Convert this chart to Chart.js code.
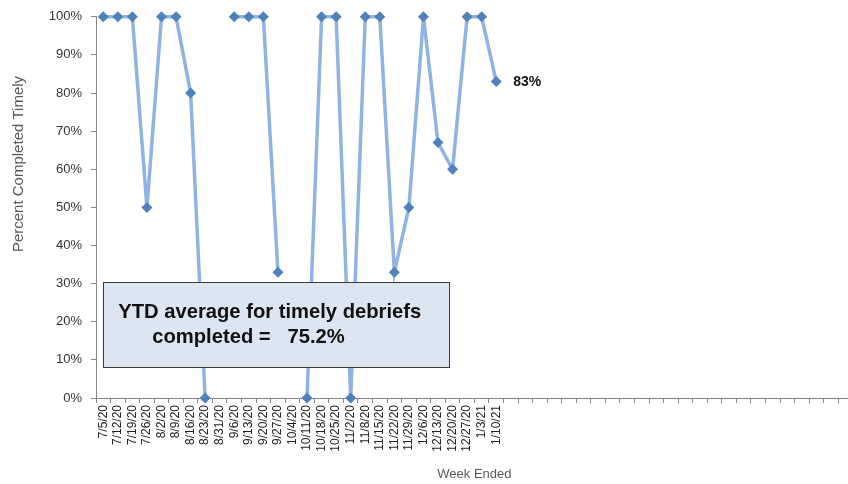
<!DOCTYPE html>
<html>
<head>
<meta charset="utf-8">
<script src="https://cdn.jsdelivr.net/npm/chart.js@4.4.0/dist/chart.umd.min.js"></script>
<style>
  html, body { margin: 0; padding: 0; background: #fff; overflow: hidden; width: 848px; height: 484px; }
  #wrap { position: relative; width: 862px; height: 484px; }
</style>
</head>
<body>
<div id="wrap"><canvas id="c" width="862" height="484"></canvas></div>
<script>
// ---- data ----
const weeks = ['7/5/20','7/12/20','7/19/20','7/26/20','8/2/20','8/9/20','8/16/20','8/23/20','8/31/20',
  '9/6/20','9/13/20','9/20/20','9/27/20','10/4/20','10/11/20','10/18/20','10/25/20','11/2/20',
  '11/8/20','11/15/20','11/22/20','11/29/20','12/6/20','12/13/20','12/20/20','12/27/20','1/3/21','1/10/21'];
const emptyWeeks = 24; // remaining (unlabelled) weeks of the year on the axis
const pctTimely = [100,100,100,50,100,100,80,0,null,100,100,100,33,null,0,100,100,0,100,100,33,50,100,67,60,100,100,83];
const yTicks = [0,10,20,30,40,50,60,70,80,90,100];
const noteLines = ['YTD average for timely debriefs', 'completed =   75.2%'];
const lastLabel = '83%';

const allLabels = weeks.concat(new Array(emptyWeeks).fill(''));

const extras = {
  id: 'extras',
  afterDatasetsDraw(chart) {
    const ctx = chart.ctx, xs = chart.scales.x, ys = chart.scales.y;
    // note box
    const l = xs.getPixelForValue(0), r = xs.getPixelForValue(23.76);
    const t = ys.getPixelForValue(30.3), b = ys.getPixelForValue(8.1);
    ctx.save();
    ctx.fillStyle = '#DCE6F2';
    ctx.strokeStyle = '#3a3a3a';
    ctx.lineWidth = 1;
    ctx.fillRect(l, t, r - l, b - t);
    ctx.strokeRect(Math.round(l) + 0.5, Math.round(t) + 0.5, Math.round(r - l), Math.round(b - t));
    // fit font
    let size = 20;
    ctx.font = 'bold ' + size + 'px "Liberation Sans", Arial, sans-serif';
    const w = ctx.measureText(noteLines[0]).width;
    size = size * 303 / w;
    ctx.font = 'bold ' + size.toFixed(2) + 'px "Liberation Sans", Arial, sans-serif';
    ctx.fillStyle = '#111';
    ctx.textBaseline = 'alphabetic';
    ctx.textAlign = 'left';
    ctx.fillText(noteLines[0], l + 15, t + 36);
    ctx.fillText(noteLines[1], l + 49, t + 61);
    ctx.restore();

    // last point label
    const meta = chart.getDatasetMeta(0);
    const idx = pctTimely.length - 1;
    const pt = meta.data[idx];
    ctx.save();
    ctx.font = 'bold 14px "Liberation Sans", Arial, sans-serif';
    ctx.fillStyle = '#111';
    ctx.textAlign = 'left';
    ctx.textBaseline = 'middle';
    ctx.fillText(lastLabel, pt.x + 17, pt.y + 1);
    ctx.restore();
  },
  afterDraw(chart) {
    const ctx = chart.ctx;
    ctx.save();
    ctx.translate(19, 164);
    ctx.rotate(-Math.PI / 2);
    ctx.font = '15px "Liberation Sans", Arial, sans-serif';
    ctx.fillStyle = '#595959';
    ctx.textAlign = 'center';
    ctx.textBaseline = 'middle';
    ctx.fillText('Percent Completed Timely', 0, 0);
    ctx.restore();
  }
};

new Chart(document.getElementById('c'), {
  type: 'line',
  data: {
    labels: allLabels,
    datasets: [{
      data: pctTimely,
      borderColor: '#8EB4E3',
      borderWidth: 3.5,
      pointStyle: 'rectRot',
      pointRadius: 5.5,
      pointBackgroundColor: '#4F81BD',
      pointBorderColor: '#4F81BD',
      pointBorderWidth: 0,
      spanGaps: false,
      tension: 0,
      clip: false
    }]
  },
  options: {
    responsive: false,
    animation: false,
    devicePixelRatio: 1,
    layout: { padding: { left: 0, right: 9, top: 15, bottom: 0 } },
    plugins: { legend: { display: false }, tooltip: { enabled: false } },
    scales: {
      x: {
        type: 'category',
        offset: true,
        grid: { offset: true, drawOnChartArea: false, drawTicks: true, tickLength: 5, color: '#868686' },
        border: { color: '#868686', width: 1 },
        ticks: {
          autoSkip: false, minRotation: 90, maxRotation: 90, padding: 2,
          color: '#222', font: { family: '"Liberation Sans", Arial, sans-serif', size: 12 }
        },
        title: {
          display: true, text: 'Week Ended', color: '#595959',
          font: { family: '"Liberation Sans", Arial, sans-serif', size: 13 },
          padding: { top: 0, bottom: 2 }
        },
        afterFit(scale) { scale.height = 86; }
      },
      y: {
        min: 0, max: 100,
        afterBuildTicks(scale) { scale.ticks = yTicks.map(v => ({ value: v })); },
        grid: { drawOnChartArea: false, drawTicks: true, tickLength: 5, color: '#868686' },
        border: { color: '#868686', width: 1 },
        ticks: {
          padding: 9, color: '#333',
          font: { family: '"Liberation Sans", Arial, sans-serif', size: 13 },
          callback: v => v + '%'
        },
        afterFit(scale) { scale.width = 96; }
      }
    }
  },
  plugins: [extras]
});
</script>
</body>
</html>
